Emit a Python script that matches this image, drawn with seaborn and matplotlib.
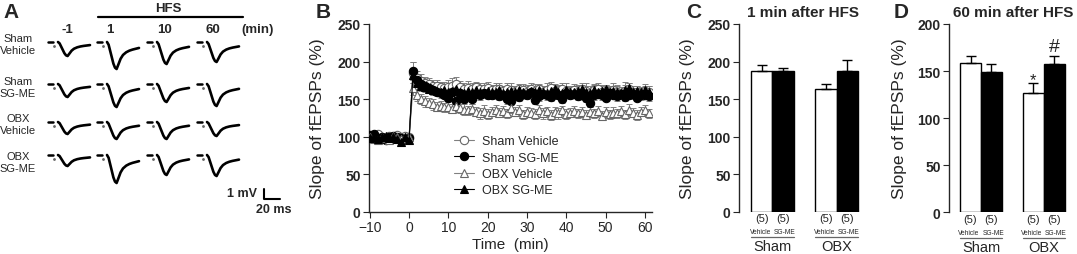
import numpy as np
import pandas as pd
import matplotlib
matplotlib.use("Agg")
import matplotlib.pyplot as plt
import seaborn as sns

# =============================================
# 1. DATA
# =============================================
# Panel A - representative fEPSP traces (amplitude in mV per row/column)
TRACE_ROWS = ["Sham\nVehicle", "Sham\nSG-ME", "OBX\nVehicle", "OBX\nSG-ME"]
TRACE_COLS = ["-1", "1", "10", "60"]
TRACE_AMP = [
    [1.4, 2.7, 2.2, 2.0],
    [1.3, 2.3, 1.8, 2.2],
    [1.2, 1.7, 1.7, 1.4],
    [1.1, 2.8, 2.0, 2.1],
]
# waveform template (ms, fraction of peak)
TRACE_MS = [0, 2, 5, 8, 10, 12, 14, 17, 20, 24, 28, 32, 36, 40]
TRACE_SHAPE = [0, -0.1, -0.45, -0.8, -0.95, -1.0, -0.85, -0.62, -0.48,
               -0.38, -0.32, -0.28, -0.25, -0.22]

# Panel B - time course (min) and slope (%)
BASE_TIME = [-10, -9, -8, -7, -6, -5, -4, -3, -2, -1, 0]
POST_TIME = list(range(1, 62))
SERIES = ["Sham Vehicle", "Sham SG-ME", "OBX Vehicle", "OBX SG-ME"]

sham_veh = [100, 98, 103, 99, 97, 101, 100, 102, 99, 101, 100,
            185, 178, 174, 172, 170, 168, 167, 166, 165, 166,
            168, 170, 166, 164, 165, 163, 166, 164, 163, 165,
            162, 164, 163, 161, 164, 162, 160, 163, 162, 160,
            164, 161, 163, 160, 162, 165, 161, 160, 163, 161,
            159, 162, 160, 163, 161, 158, 162, 164, 160, 161,
            159, 162, 160, 158, 161, 163, 159, 160, 158, 161,
            159]
sham_sg = [102, 104, 98, 100, 96, 99, 101, 100, 98, 97, 98,
           187, 175, 170, 167, 165, 162, 160, 158, 156, 152,
           160, 148, 158, 150, 155, 150, 157, 155, 158, 156,
           155, 157, 154, 156, 150, 147, 155, 153, 157, 155,
           160, 149, 154, 157, 155, 153, 157, 156, 150, 158,
           155, 157, 154, 156, 152, 145, 155, 157, 155, 152,
           158, 156, 154, 157, 153, 155, 157, 152, 155, 156,
           154]
obx_veh = [99, 97, 95, 100, 98, 96, 101, 99, 97, 100, 99,
           165, 155, 150, 147, 145, 143, 140, 141, 139, 140,
           137, 141, 138, 136, 135, 137, 133, 131, 134, 130,
           133, 135, 132, 134, 131, 138, 133, 135, 130, 133,
           132, 130, 136, 131, 134, 129, 133, 131, 135, 130,
           132, 134, 131, 133, 129, 133, 131, 134, 128, 133,
           130, 132, 131, 134, 130, 136, 132, 129, 133, 135,
           131]
obx_sg = [98, 100, 97, 99, 101, 98, 100, 97, 93, 99, 96,
          182, 172, 168, 166, 164, 162, 161, 160, 162, 159,
          161, 163, 160, 158, 161, 159, 162, 160, 158, 161,
          159, 160, 162, 158, 160, 161, 159, 162, 160, 158,
          161, 159, 162, 160, 158, 161, 163, 160, 158, 162,
          160, 159, 161, 163, 160, 158, 162, 160, 161, 163,
          159, 161, 160, 158, 162, 165, 160, 161, 159, 162,
          160]

sham_veh_sem = [4, 3, 5, 4, 3, 4, 5, 3, 4, 4, 3,
                14, 10, 9, 8, 8, 7, 8, 7, 8, 9,
                10, 10, 8, 7, 9, 8, 7, 8, 9, 8,
                7, 8, 9, 7, 8, 9, 8, 7, 8, 9,
                8, 9, 7, 8, 9, 8, 7, 9, 8, 10,
                7, 8, 9, 8, 10, 9, 8, 7, 9, 8,
                8, 10, 9, 8, 12, 8, 9, 8, 7, 9,
                8]
sham_sg_sem = [5, 4, 4, 3, 4, 5, 3, 4, 4, 3, 4,
               12, 8, 7, 6, 6, 6, 5, 6, 5, 6,
               6, 5, 6, 5, 6, 6, 5, 6, 5, 6,
               5, 6, 5, 6, 6, 5, 6, 5, 6, 5,
               6, 5, 6, 5, 6, 5, 6, 6, 5, 6,
               5, 6, 5, 6, 6, 5, 6, 5, 6, 5,
               6, 5, 6, 5, 6, 5, 6, 5, 6, 5,
               6]
obx_veh_sem = [4, 3, 4, 3, 4, 3, 4, 3, 4, 3, 4,
               10, 8, 7, 7, 6, 7, 6, 7, 6, 7,
               6, 7, 6, 7, 6, 7, 6, 7, 8, 7,
               6, 7, 6, 7, 6, 7, 6, 7, 6, 7,
               6, 7, 6, 7, 6, 7, 6, 7, 6, 7,
               6, 7, 6, 7, 6, 7, 6, 7, 6, 7,
               6, 7, 6, 7, 6, 7, 6, 7, 6, 7,
               6]
obx_sg_sem = [4, 4, 3, 4, 3, 4, 3, 4, 5, 4, 3,
              10, 8, 7, 7, 6, 6, 7, 6, 7, 6,
              7, 6, 7, 6, 7, 6, 7, 6, 7, 6,
              7, 6, 7, 6, 7, 6, 7, 6, 7, 6,
              7, 6, 7, 6, 7, 6, 7, 6, 7, 6,
              7, 6, 7, 6, 7, 6, 7, 6, 7, 6,
              7, 6, 7, 6, 7, 6, 7, 6, 7, 6,
              7]

# Panels C / D - bar summaries
GROUPS = ["Sham", "Sham", "OBX", "OBX"]
TREATS = ["Vehicle", "SG-ME", "Vehicle", "SG-ME"]
N_SLICES = [5, 5, 5, 5]
C_MEAN = [188, 187, 163, 188]
C_SEM = [8, 4.5, 6.5, 14]
D_MEAN = [159, 149, 127, 158]
D_SEM = [6.5, 8, 10, 8]

# =============================================
# 2. STYLE
# =============================================
sns.set_style("ticks")
plt.rcParams["font.family"] = ["Liberation Sans", "DejaVu Sans"]
plt.rcParams["axes.linewidth"] = 1.0
plt.rcParams["xtick.major.size"] = 4
plt.rcParams["ytick.major.size"] = 4

W, H = 1077, 255
fig = plt.figure(figsize=(W / 100, H / 100), dpi=100)


def px_axes(x0, y_top, x1, y_bot):
    return fig.add_axes([x0 / W, 1 - y_bot / H, (x1 - x0) / W, (y_bot - y_top) / H])


def letter(x, y, s):
    fig.text(x / W, 1 - y / H, s, fontsize=15, fontweight="bold", ha="left", va="center")


# =============================================
# 3. PANEL A - traces
# =============================================
axA = fig.add_axes([0, 0, 300 / W, 1])
axA.set_xlim(0, 300)
axA.set_ylim(H, 0)
axA.axis("off")

col_start = [58, 107, 157, 207]
row_base = [43, 85, 123, 156]
row_label_y = [45, 88, 125, 163]
px_per_ms = 0.8
px_per_mv = 10

for r, row in enumerate(TRACE_ROWS):
    axA.text(18, row_label_y[r], row, fontsize=8, ha="center", va="center", linespacing=1.2)
    for c in range(len(TRACE_COLS)):
        amp = TRACE_AMP[r][c]
        xs = [col_start[c] + t * px_per_ms for t in TRACE_MS]
        ys = [row_base[r] - amp * px_per_mv * s for s in TRACE_SHAPE]
        axA.plot(xs, ys, color="black", lw=1.9, solid_capstyle="round", solid_joinstyle="round")
        axA.plot([col_start[c] - 10, col_start[c] - 5], [row_base[r], row_base[r]], color="black", lw=1.8)
        axA.plot(col_start[c] - 4, row_base[r] + 4, marker="o", ms=1, color="0.4")

col_lab_x = [67, 110, 165, 213]
for x, s in zip(col_lab_x, TRACE_COLS):
    axA.text(x, 30, s, fontsize=9.5, fontweight="bold", ha="center", va="center")
axA.text(258, 30, "(min)", fontsize=9.5, fontweight="bold", ha="center", va="center")
axA.text(168, 9, "HFS", fontsize=9.5, fontweight="bold", ha="center", va="center")
axA.plot([98, 243], [18, 18], color="black", lw=1.6)

# scale bar: 1 mV / 20 ms
axA.plot([264, 264, 264 + 20 * px_per_ms], [200 - px_per_mv, 200, 200], color="black", lw=1.5)
axA.text(257, 194, "1 mV", fontsize=9, fontweight="bold", ha="right", va="center")
axA.text(274, 210, "20 ms", fontsize=9, fontweight="bold", ha="center", va="center")
letter(3, 13, "A")

# =============================================
# 4. PANEL B - time course
# =============================================
axB = px_axes(369, 25, 652, 212.7)
time_all = BASE_TIME + POST_TIME
values = [sham_veh, sham_sg, obx_veh, obx_sg]
sems = [sham_veh_sem, sham_sg_sem, obx_veh_sem, obx_sg_sem]
df = pd.concat([pd.DataFrame({"time": time_all, "slope": v, "sem": e, "group": g})
                for g, v, e in zip(SERIES, values, sems)], ignore_index=True)

styles = {
    "Sham Vehicle": dict(marker="o", color="0.5", mfc="white", mec="0.4"),
    "Sham SG-ME": dict(marker="o", color="black", mfc="black", mec="black"),
    "OBX Vehicle": dict(marker="^", color="0.5", mfc="white", mec="0.4"),
    "OBX SG-ME": dict(marker="^", color="black", mfc="black", mec="black"),
}
for g in SERIES:
    sub = df[df["group"] == g]
    st = styles[g]
    axB.errorbar(sub["time"], sub["slope"], yerr=sub["sem"], fmt="none", ecolor="0.5",
                 elinewidth=0.7, capsize=2.2, capthick=0.7, zorder=1)
    sns.lineplot(data=sub, x="time", y="slope", ax=axB, color=st["color"], lw=0.8,
                 marker=st["marker"], markersize=6, markerfacecolor=st["mfc"],
                 markeredgecolor=st["mec"], markeredgewidth=0.8, label=g, errorbar=None, zorder=3)

axB.set_xlim(-10.2, 61.8)
axB.set_ylim(0, 250)
axB.set_xticks([-10, 0, 10, 20, 30, 40, 50, 60])
axB.set_yticks([0, 50, 100, 150, 200, 250])
axB.tick_params(labelsize=10, pad=2)
for t in axB.get_yticklabels():
    t.set_fontweight("bold")
axB.set_xlabel("Time  (min)", fontsize=11, labelpad=2)
axB.set_ylabel("Slope of fEPSPs (%)", fontsize=12.5)
axB.yaxis.set_label_coords(-0.155, 0.5)
sns.despine(ax=axB)
axB.legend(loc="upper left", bbox_to_anchor=(0.28, 0.44), frameon=False, fontsize=9,
           handlelength=1.6, handletextpad=0.6, labelspacing=0.35, borderpad=0)
letter(316, 12, "B")


# =============================================
# 5. PANELS C / D - bars
# =============================================
def bar_panel(ax, means, sems, ymax, step, xlim, marks=None):
    sns.barplot(x=GROUPS, y=means, hue=TREATS, order=["Sham", "OBX"],
                hue_order=["Vehicle", "SG-ME"], palette={"Vehicle": "white", "SG-ME": "black"},
                width=0.667, edgecolor="black", linewidth=1, errorbar=None, legend=False, ax=ax)
    bars = sorted(ax.patches, key=lambda p: p.get_x())
    centers = [p.get_x() + p.get_width() / 2 for p in bars]
    ax.errorbar(centers, means, yerr=[np.zeros(len(sems)), sems], fmt="none",
                ecolor="black", elinewidth=1, capsize=3.5, capthick=1, zorder=5)
    ax.set_xlim(*xlim)
    ax.set_ylim(0, ymax)
    ax.set_yticks(np.arange(0, ymax + 1, step))
    ax.tick_params(axis="y", labelsize=10, pad=2)
    for t in ax.get_yticklabels():
        t.set_fontweight("bold")
    ax.set_xticks([])
    ax.set_xlabel("")
    ax.set_ylabel("Slope of fEPSPs (%)", fontsize=12.5)
    sns.despine(ax=ax, bottom=True)
    tr = ax.get_xaxis_transform()
    for cx, n in zip(centers, N_SLICES):
        ax.text(cx, -0.036, f"({n})", transform=tr, fontsize=8, ha="center", va="center")
    for i, gname in enumerate(["Sham", "OBX"]):
        left = bars[2 * i].get_x()
        right = bars[2 * i + 1].get_x() + bars[2 * i + 1].get_width()
        mid = bars[2 * i + 1].get_x()
        ax.text(mid - 0.02, -0.105, TREATS[2 * i], transform=tr, fontsize=4.8, ha="right", va="center")
        ax.text(mid + 0.02, -0.105, TREATS[2 * i + 1], transform=tr, fontsize=4.8, ha="left", va="center")
        ax.plot([left, right], [-0.137, -0.137], transform=tr, color="0.4", lw=0.9, clip_on=False)
        ax.text((left + right) / 2, -0.185, gname, transform=tr, fontsize=10.5, ha="center", va="center")
    if marks:
        for idx, s, yv, fs in marks:
            ax.text(centers[idx], yv, s, fontsize=fs, ha="center", va="center")
    return centers


axC = px_axes(739, 25, 872, 212.7)
bar_panel(axC, C_MEAN, C_SEM, 250, 50, (-0.52, 1.55))
axC.yaxis.set_label_coords(-0.33, 0.5)
fig.text(803 / W, 1 - 13 / H, "1 min after HFS", fontsize=11, fontweight="bold", ha="center", va="center")
letter(686, 12, "C")

axD = px_axes(949, 25, 1075, 213.3)
bar_panel(axD, D_MEAN, D_SEM, 200, 50, (-0.51, 1.5),
          marks=[(2, "*", 141, 12), (3, "#", 176, 14)])
axD.yaxis.set_label_coords(-0.33, 0.5)
fig.text(1013 / W, 1 - 13 / H, "60 min after HFS", fontsize=11, fontweight="bold", ha="center", va="center")
letter(894, 12, "D")

fig.savefig("out.png", dpi=100)
